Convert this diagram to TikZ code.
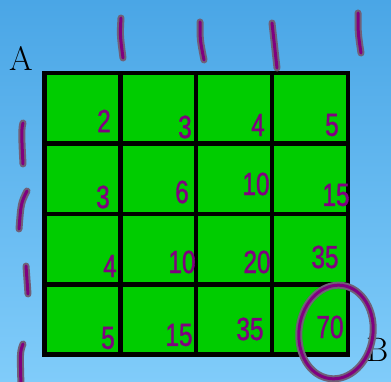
\documentclass[tikz,border=0pt]{standalone}
\usepackage{fontspec}
\newfontfamily\handfont[FakeStretch=0.76,FakeBold=1.2]{Liberation Sans}
\definecolor{skytop}{RGB}{74,166,230}
\definecolor{skybot}{RGB}{128,204,250}
\definecolor{cellgreen}{RGB}{0,204,0}
\definecolor{ink}{RGB}{128,0,128}
\definecolor{inkhalo}{RGB}{112,96,120}
\tikzset{
  cell/.style={draw=black, fill=cellgreen, line width=4.5pt, minimum width=75.75pt,
    minimum height=70.4pt, inner sep=0pt, outer sep=0pt},
  num/.style={text=ink, font=\handfont\fontsize{32}{32}\selectfont, inner sep=0pt},
  lbl/.style={font=\fontsize{34}{34}\selectfont, inner sep=0pt},
  pen/.style={draw=inkhalo, line width=2pt, double=ink, double distance=3pt,
    line cap=round, line join=round},
}
\begin{document}
\begin{tikzpicture}[x=1pt,y=-1pt]
\shade[top color=skytop, bottom color=skybot] (0,0) rectangle (391,382);
\useasboundingbox (0,0) rectangle (391,382);
% grid
\foreach \r in {0,...,3}{
  \foreach \c in {0,...,3}{
    \node[cell] (c\r\c) at ({82.5+75.8*\c},{108.25+70.4*\r}) {};
  }
}
% labels
\node[lbl, anchor=base] (A) at (21,71) {A};
\node[lbl, anchor=base west] (B) at (366,361) {B};
% numbers
\node[num] (n00) at (104,121) {2};
\node[num] (n01) at (185,127) {3};
\node[num] (n02) at (258,125) {4};
\node[num] (n03) at (332,125) {5};
\node[num] (n10) at (103,197) {3};
\node[num] (n11) at (182,192) {6};
\node[num] (n12) at (256,184) {10};
\node[num] (n13) at (336,195) {15};
\node[num] (n20) at (110,266) {4};
\node[num] (n21) at (182,262) {10};
\node[num] (n22) at (257,262) {20};
\node[num] (n23) at (325,257) {35};
\node[num] (n30) at (108,338) {5};
\node[num] (n31) at (179,335) {15};
\node[num] (n32) at (250,329) {35};
\node[num] (n33) at (330,327) {70};
% tick marks
\draw[pen] (121,18) .. controls (120,35) .. (123,58);
\draw[pen] (200,22) .. controls (200,40) .. (204,60);
\draw[pen] (272,23) .. controls (274,45) .. (277,68);
\draw[pen] (358,13) .. controls (358,33) .. (361,53);
\draw[pen] (23,123) .. controls (21,128) and (22,145) .. (23,164);
\draw[pen] (27,191) .. controls (21,203) .. (19,229);
\draw[pen] (26,266) .. controls (27,280) .. (28,294);
\draw[pen] (23,344) .. controls (20,352) .. (21,386);
% circle round 70
\draw[pen, rotate around={-8:(336,332)}] (336,332) ellipse (37 and 47);
\end{tikzpicture}
\end{document}
